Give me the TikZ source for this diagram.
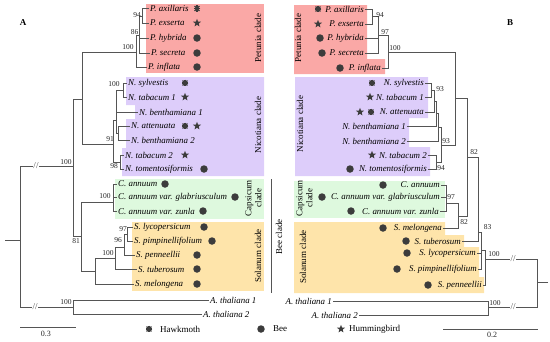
\documentclass[tikz,border=0pt]{standalone}
\usepackage{fontspec}
\setmainfont{Liberation Serif}
\usetikzlibrary{shapes.geometric}
\definecolor{pinkc}{RGB}{250,168,166}
\definecolor{purpc}{RGB}{221,205,250}
\definecolor{greenc}{RGB}{222,249,222}
\definecolor{orangec}{RGB}{254,228,170}
\definecolor{treec}{RGB}{85,85,85}
\definecolor{symc}{RGB}{60,60,60}
\begin{document}
\begin{tikzpicture}[x=1pt,y=-1pt,
  br/.style={draw=treec,line width=0.85pt},
  sp/.style={font=\fontsize{8.9}{10}\selectfont\itshape, inner sep=1pt},
  spa/.style={sp,anchor=west},
  spb/.style={sp,anchor=east},
  bs/.style={font=\fontsize{7.5}{8}\selectfont, text=black!85, inner sep=0pt},
  cl/.style={font=\fontsize{9}{10}\selectfont, rotate=90, inner sep=0pt, align=center},
  bee/.style={circle, fill=symc, minimum size=7.5pt, inner sep=0pt},
  hum/.style={star, star points=5, star point ratio=2.4, fill=symc, minimum size=8.5pt, inner sep=0pt},
  hawk/.style={minimum size=7.4pt, inner sep=0pt, path picture={\foreach \a in {0,45,90,135}{\draw[symc,line width=1.2pt] (path picture bounding box.center) ++(\a:3.4pt) -- ++(\a+180:6.8pt);}}},
  brk/.style={fill=white, inner sep=0.3pt, font=\fontsize{9}{9}\selectfont, text=treec},
  lg/.style={font=\fontsize{9}{10}\selectfont, anchor=west, inner sep=0pt}
]
\useasboundingbox (0,0) rectangle (550,341);

% ---------- background boxes A ----------
\fill[pinkc] (146,4) rectangle (264,73);
\fill[purpc] (126,77) -- (264,77) -- (264,176) -- (122,176) -- (122,148) -- (126,148) -- (126,119) -- (135,119) -- (135,105) -- (126,105) -- cycle;
\fill[greenc] (115,179) rectangle (264,219);
\fill[orangec] (132,222) rectangle (264,291);
% ---------- background boxes B ----------
\fill[pinkc] (294,5) -- (367,5) -- (367,59) -- (385,59) -- (385,74) -- (294,74) -- cycle;
\fill[purpc] (295,77) -- (428,77) -- (428,118) -- (409,118) -- (409,147) -- (430,147) -- (430,176) -- (295,176) -- cycle;
\fill[greenc] (294,181) rectangle (445,218);
\fill[orangec] (294,222) -- (445,222) -- (445,235) -- (464,235) -- (464,247) -- (479,247) -- (479,277) -- (484,277) -- (484,293) -- (294,293) -- cycle;

% ---------- panel letters ----------
\node[font=\fontsize{9}{10}\selectfont\bfseries] (labA) at (23,23) {A};
\node[font=\fontsize{9}{10}\selectfont\bfseries] (labB) at (510,23) {B};

% ---------- leaves A ----------
\node[spa] (Pax) at (149,8.5) {P. axillaris};
\node[spa] (Pex) at (149,23) {P. exserta};
\node[spa] (Phy) at (149,38) {P. hybrida};
\node[spa] (Pse) at (150,53) {P. secreta};
\node[spa] (Pin) at (147,67) {P. inflata};
\node[spa] (Nsy) at (127,83) {N. sylvestis};
\node[spa] (Nt1) at (127,97) {N. tabacum 1};
\node[spa] (Nb1) at (138,112) {N. benthamiana 1};
\node[spa] (Nat) at (130,126) {N. attenuata};
\node[spa] (Nb2) at (130,140) {N. benthamiana 2};
\node[spa] (Nt2) at (124,155) {N. tabacum 2};
\node[spa] (Nto) at (124,169) {N. tomentosiformis};
\node[spa] (Ca1) at (117,184) {C. annuum};
\node[spa] (Ca2) at (117,197) {C. annuum var. glabriusculum};
\node[spa] (Ca3) at (117,211) {C. annuum var. zunla};
\node[spa] (Sly) at (133,227) {S. lycopersicum};
\node[spa] (Spi) at (133,241) {S. pimpinellifolium};
\node[spa] (Spe) at (135,255) {S. penneellii};
\node[spa] (Stu) at (137,269) {S. tuberosum};
\node[spa] (Sme) at (134,284) {S. melongena};
\node[spa] (At1A) at (209,300) {A. thaliana 1};
\node[spa] (At2A) at (202,314) {A. thaliana 2};

% ---------- internal nodes A ----------
\coordinate (rA0) at (5,240);
\coordinate (rA) at (20,240);
\coordinate (iA) at (73,166);
\coordinate (pnA) at (82,99);
\coordinate (p100A) at (136,52);
\coordinate (p86A) at (139,35);
\coordinate (p94A) at (142,16);
\coordinate (nicA) at (113,144);
\coordinate (nuA) at (116,120);
\coordinate (n100A) at (123,90);
\coordinate (naA) at (118,133);
\coordinate (n98A) at (120,162);
\coordinate (c81A) at (81,236);
\coordinate (capA) at (113,202);
\coordinate (solA) at (95,271);
\coordinate (s100A) at (115,258);
\coordinate (s96A) at (124,247);
\coordinate (s97A) at (127,234);
\coordinate (atA) at (73,307);

% ---------- edges A ----------
\draw[br] (rA0) -- (rA);
\draw[br] (rA) |- (iA);
\draw[br] (rA) |- (atA);
\draw[br] (iA) |- (pnA);
\draw[br] (iA) |- (c81A);
\draw[br] (pnA) |- (p100A);
\draw[br] (pnA) |- (nicA);
\draw[br] (p100A) |- (p86A);
\draw[br] (p100A) |- (Pin.west);
\draw[br] (p86A) |- (p94A);
\draw[br] (p86A) |- (Phy.west);
\draw[br] (p86A) |- (Pse.west);
\draw[br] (p94A) |- (Pax.west);
\draw[br] (p94A) |- (Pex.west);
\draw[br] (nicA) |- (nuA);
\draw[br] (nicA) |- (n98A);
\draw[br] (nuA) |- (n100A);
\draw[br] (nuA) |- (Nb1.west);
\draw[br] (nuA) |- (naA);
\draw[br] (n100A) |- (Nsy.west);
\draw[br] (n100A) |- (Nt1.west);
\draw[br] (naA) |- (Nat.west);
\draw[br] (naA) |- (Nb2.west);
\draw[br] (n98A) |- (Nt2.west);
\draw[br] (n98A) |- (Nto.west);
\draw[br] (c81A) |- (capA);
\draw[br] (c81A) |- (solA);
\draw[br] (capA) |- (Ca1.west);
\draw[br] (capA) |- (Ca2.west);
\draw[br] (capA) |- (Ca3.west);
\draw[br] (solA) |- (s100A);
\draw[br] (solA) |- (Sme.west);
\draw[br] (s100A) |- (s96A);
\draw[br] (s100A) |- (Stu.west);
\draw[br] (s96A) |- (s97A);
\draw[br] (s96A) |- (Spe.west);
\draw[br] (s97A) |- (Sly.west);
\draw[br] (s97A) |- (Spi.west);
\draw[br] (atA) |- (At1A.west);
\draw[br] (atA) |- (At2A.west);
\node[brk] (bkA1) at (36,166) {//};
\node[brk] (bkA2) at (35,307) {//};

% ---------- bootstrap A ----------
\node[bs] (bA1) at (137,15) {94};
\node[bs] (bA2) at (134.5,32) {86};
\node[bs] (bA3) at (128,47) {100};
\node[bs] (bA4) at (114,84) {100};
\node[bs] (bA5) at (110,139) {91};
\node[bs] (bA6) at (114,166) {98};
\node[bs] (bA7) at (66,162) {100};
\node[bs] (bA8) at (105,196) {100};
\node[bs] (bA9) at (76,241) {81};
\node[bs] (bA10) at (123,229) {97};
\node[bs] (bA11) at (118,240) {96};
\node[bs] (bA12) at (108,253) {100};
\node[bs] (bA13) at (66,302) {100};

% ---------- symbols A ----------
\node[hawk] (sA1) at (197,8.5) {};
\node[hum] (sA2) at (197,23) {};
\node[bee] (sA3) at (197,38) {};
\node[bee] (sA4) at (197,53) {};
\node[bee] (sA5) at (197,67) {};
\node[hawk] (sA6) at (185,83) {};
\node[hum] (sA7) at (185,97) {};
\node[hawk] (sA8) at (185,126) {};
\node[hum] (sA9) at (197,126) {};
\node[hum] (sA10) at (185,155) {};
\node[bee] (sA11) at (204,169) {};
\node[bee] (sA12) at (165,184) {};
\node[bee] (sA13) at (235,197) {};
\node[bee] (sA14) at (203,211) {};
\node[bee] (sA15) at (204,227) {};
\node[bee] (sA16) at (212,241) {};
\node[bee] (sA17) at (197,255) {};
\node[bee] (sA18) at (197,269) {};
\node[bee] (sA19) at (197,284) {};

% ---------- clade labels A ----------
\node[cl] (cA1) at (258,38) {Petunia clade};
\node[cl] (cA2) at (258,125) {Nicotiana clade};
\node[cl] (cA3) at (253.5,198) {Capsicum\\clade};
\node[cl] (cA4) at (258,256) {Solanum clade};

% ---------- bee clade ----------
\coordinate (beeT) at (271,179);
\coordinate (beeB) at (271,293);
\draw[treec, line width=0.85pt] (beeT) -- (beeB);
\node[cl] (beeL) at (279,237) {Bee clade};

% ---------- leaves B ----------
\node[spb] (PaxB) at (365,9) {P. axillaris};
\node[spb] (PexB) at (365,24) {P. exserta};
\node[spb] (PhyB) at (365,38) {P. hybrida};
\node[spb] (PseB) at (365,53) {P. secreta};
\node[spb] (PinB) at (382,68) {P. inflata};
\node[spb] (NsyB) at (425,83) {N. sylvestis};
\node[spb] (Nt1B) at (425,97) {N. tabacum 1};
\node[spb] (NatB) at (425,112) {N. attenuata};
\node[spb] (Nb1B) at (407,126) {N. benthamiana 1};
\node[spb] (Nb2B) at (407,141) {N. benthamiana 2};
\node[spb] (Nt2B) at (428,155) {N. tabacum 2};
\node[spb] (NtoB) at (428,169) {N. tomentosiformis};
\node[spb] (Ca1B) at (441,185) {C. annuum};
\node[spb] (Ca2B) at (441,197) {C. annuum var. glabriusculum};
\node[spb] (Ca3B) at (440,211) {C. annuum var. zunla};
\node[spb] (SmeB) at (443,228) {S. melongena};
\node[spb] (StuB) at (462,241) {S. tuberosum};
\node[spb] (SlyB) at (477,253) {S. lycopersicum};
\node[spb] (SpiB) at (478,269) {S. pimpinellifolium};
\node[spb] (SpeB) at (483,285) {S. penneellii};
\node[spb] (At1B) at (333,301) {A. thaliana 1};
\node[spb] (At2B) at (359,315) {A. thaliana 2};

% ---------- internal nodes B ----------
\coordinate (rB0) at (548,282);
\coordinate (rB) at (537,282);
\coordinate (wB) at (485,259);
\coordinate (zB) at (481,250);
\coordinate (yB) at (478,232);
\coordinate (xB) at (467,157);
\coordinate (pnB) at (455,98);
\coordinate (p100B) at (388,52);
\coordinate (p97B) at (378,35);
\coordinate (p94B) at (372,16);
\coordinate (nicB) at (441,145);
\coordinate (bcB) at (438,127);
\coordinate (bbB) at (436,113);
\coordinate (baB) at (434,101);
\coordinate (n93B) at (431,90);
\coordinate (n94B) at (436,162);
\coordinate (cmB) at (458,216);
\coordinate (capB) at (446,203);
\coordinate (atB) at (488,307);

% ---------- edges B ----------
\draw[br] (rB0) -- (rB);
\draw[br] (rB) |- (wB);
\draw[br] (rB) |- (atB);
\draw[br] (wB) |- (zB);
\draw[br] (wB) |- (SpeB.east);
\draw[br] (zB) |- (yB);
\draw[br] (zB) |- (SlyB.east);
\draw[br] (zB) |- (SpiB.east);
\draw[br] (yB) |- (xB);
\draw[br] (yB) |- (StuB.east);
\draw[br] (xB) |- (pnB);
\draw[br] (xB) |- (cmB);
\draw[br] (pnB) |- (p100B);
\draw[br] (pnB) |- (nicB);
\draw[br] (p100B) |- (p97B);
\draw[br] (p100B) |- (PinB.east);
\draw[br] (p97B) |- (p94B);
\draw[br] (p97B) |- (PhyB.east);
\draw[br] (p97B) |- (PseB.east);
\draw[br] (p94B) |- (PaxB.east);
\draw[br] (p94B) |- (PexB.east);
\draw[br] (nicB) |- (bcB);
\draw[br] (nicB) |- (n94B);
\draw[br] (bcB) |- (bbB);
\draw[br] (bcB) |- (Nb2B.east);
\draw[br] (bbB) |- (baB);
\draw[br] (bbB) |- (Nb1B.east);
\draw[br] (baB) |- (n93B);
\draw[br] (baB) |- (NatB.east);
\draw[br] (n93B) |- (NsyB.east);
\draw[br] (n93B) |- (Nt1B.east);
\draw[br] (n94B) |- (Nt2B.east);
\draw[br] (n94B) |- (NtoB.east);
\draw[br] (cmB) |- (capB);
\draw[br] (cmB) |- (SmeB.east);
\draw[br] (capB) |- (Ca1B.east);
\draw[br] (capB) |- (Ca2B.east);
\draw[br] (capB) |- (Ca3B.east);
\draw[br] (atB) |- (At1B.east);
\draw[br] (atB) |- (At2B.east);
\node[brk] (bkB1) at (513,259) {//};
\node[brk] (bkB2) at (513,307) {//};

% ---------- bootstrap B ----------
\node[bs] (bB1) at (380,15) {94};
\node[bs] (bB2) at (385,32) {97};
\node[bs] (bB3) at (395,48) {100};
\node[bs] (bB4) at (440,89) {93};
\node[bs] (bB5) at (446,141) {93};
\node[bs] (bB6) at (441,168) {94};
\node[bs] (bB7) at (474,152) {82};
\node[bs] (bB8) at (451,197) {97};
\node[bs] (bB9) at (464,222) {82};
\node[bs] (bB10) at (487.5,227) {83};
\node[bs] (bB11) at (494,254) {100};
\node[bs] (bB12) at (495,303) {100};

% ---------- symbols B ----------
\node[hawk] (sB1) at (318,9) {};
\node[hum] (sB2) at (318,24) {};
\node[bee] (sB3) at (320,38) {};
\node[bee] (sB4) at (322,53) {};
\node[bee] (sB5) at (340,68) {};
\node[hawk] (sB6) at (372,83) {};
\node[hum] (sB7) at (370,97) {};
\node[hum] (sB8) at (360,112) {};
\node[hawk] (sB9) at (371,112) {};
\node[hum] (sB10) at (372,155) {};
\node[bee] (sB11) at (350,169) {};
\node[bee] (sB12) at (383,185) {};
\node[bee] (sB13) at (322,197) {};
\node[bee] (sB14) at (351,211) {};
\node[bee] (sB15) at (383,228) {};
\node[bee] (sB16) at (406,241) {};
\node[bee] (sB17) at (407,253) {};
\node[bee] (sB18) at (397,269) {};
\node[bee] (sB19) at (428,285) {};

% ---------- clade labels B ----------
\node[cl] (cB1) at (298,38) {Petunia clade};
\node[cl] (cB2) at (300,124) {Nicotiana clade};
\node[cl] (cB3) at (304.5,198) {Capsicum\\clade};
\node[cl] (cB4) at (303,257) {Solanum clade};

% ---------- scale bars ----------
\coordinate (scA1) at (20,327);
\coordinate (scA2) at (76,327);
\draw[treec, line width=0.85pt] (scA1) -- (scA2);
\node[bs, font=\fontsize{8}{9}\selectfont] (scAl) at (46,334) {0.3};
\coordinate (scB1) at (443,329);
\coordinate (scB2) at (538,329);
\draw[treec, line width=0.85pt] (scB1) -- (scB2);
\node[bs, font=\fontsize{8}{9}\selectfont] (scBl) at (492,335) {0.2};

% ---------- legend ----------
\node[hawk] (lg1) at (149,329) {};
\node[lg] (lg1t) at (160,329) {Hawkmoth};
\node[bee] (lg2) at (261,329) {};
\node[lg] (lg2t) at (273,329) {Bee};
\node[hum] (lg3) at (341,329) {};
\node[lg] (lg3t) at (349,329) {Hummingbird};
\end{tikzpicture}
\end{document}
